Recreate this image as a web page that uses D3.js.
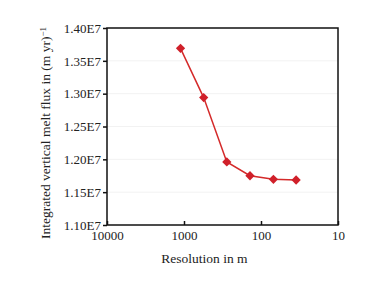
<!DOCTYPE html>
<html>
<head>
	<script src="https://d3js.org/d3.v7.min.js"></script>
	<style>
		body { margin: 0; background: #fff; }
		text { font-family: "Liberation Serif", serif; fill: #222; }
	</style>
</head>
<body>
	<div class="chart"></div>
	<script>
		// resolution (m) and integrated melt flux
		var resolution = [1110, 555, 278, 139, 69, 35];
		var meltFlux = [1.369e7, 1.294e7, 1.196e7, 1.175e7, 1.1695e7, 1.1685e7];
		var xTicks = [10000, 1000, 100, 10];
		var yTicks = [1.10e7, 1.15e7, 1.20e7, 1.25e7, 1.30e7, 1.35e7, 1.40e7];

		var w = 374, h = 299;
		var pLeft = 107, pRight = 338, pTop = 28, pBottom = 225;

		var svg = d3.select(".chart")
			.append("svg")
			.attr("width", w)
			.attr("height", h);

		var x = d3.scaleLog().domain([10000, 10]).range([pLeft, pRight]);
		var y = d3.scaleLinear().domain([1.10e7, 1.40e7]).range([pBottom, pTop]);

		// faint grid
		svg.append("g")
			.selectAll("line")
			.data(yTicks.slice(1, -1))
			.enter()
			.append("line")
			.attr("x1", pLeft).attr("x2", pRight)
			.attr("y1", function(d) { return y(d); })
			.attr("y2", function(d) { return y(d); })
			.attr("stroke", "#f2f2f2");

		var yAxis = svg.append("g")
			.attr("transform", "translate(" + pLeft + ",0)")
			.call(d3.axisLeft(y).tickValues(yTicks).tickSize(4).tickPadding(2)
				.tickFormat(function(d) { return (d / 1e7).toFixed(2) + "E7"; }));

		var xAxis = svg.append("g")
			.attr("transform", "translate(0," + pBottom + ")")
			.call(d3.axisBottom(x).tickValues(xTicks).tickSize(-4).tickPadding(6)
				.tickFormat(d3.format("d")));

		[yAxis, xAxis].forEach(function(a) {
			a.select(".domain").remove();
			a.selectAll("line").attr("stroke", "#111").attr("stroke-width", 1.5);
			a.selectAll("text").attr("font-size", 13).attr("fill", "#222")
				.attr("font-family", "Liberation Serif, serif");
		});
		xAxis.selectAll("text").attr("dy", "0.71em");

		// frame
		svg.append("rect")
			.attr("x", pLeft).attr("y", pTop)
			.attr("width", pRight - pLeft).attr("height", pBottom - pTop)
			.attr("fill", "none")
			.attr("stroke", "#111")
			.attr("stroke-width", 1.5);

		var pts = resolution.map(function(r, i) { return [r, meltFlux[i]]; });

		svg.append("path")
			.datum(pts)
			.attr("fill", "none")
			.attr("stroke", "#d42a2a")
			.attr("stroke-width", 1.5)
			.attr("d", d3.line()
				.x(function(d) { return x(d[0]); })
				.y(function(d) { return y(d[1]); }));

		svg.append("g")
			.selectAll("path")
			.data(pts)
			.enter()
			.append("path")
			.attr("transform", function(d) { return "translate(" + x(d[0]) + "," + y(d[1]) + ")"; })
			.attr("d", d3.symbol().type(d3.symbolDiamond2).size(55))
			.attr("fill", "#d0202a");

		svg.append("text")
			.attr("x", (pLeft + pRight) / 2 - 18)
			.attr("y", 263)
			.attr("text-anchor", "middle")
			.attr("font-size", 13.5)
			.text("Resolution in m");

		var yl = svg.append("text")
			.attr("transform", "translate(50," + 133 + ") rotate(-90)")
			.attr("text-anchor", "middle")
			.attr("font-size", 13.5);
		yl.append("tspan").text("Integrated vertical melt flux in (m yr)");
		yl.append("tspan").attr("dy", "-0.45em").attr("font-size", 9).text("\u22121");
	</script>
</body>
</html>
